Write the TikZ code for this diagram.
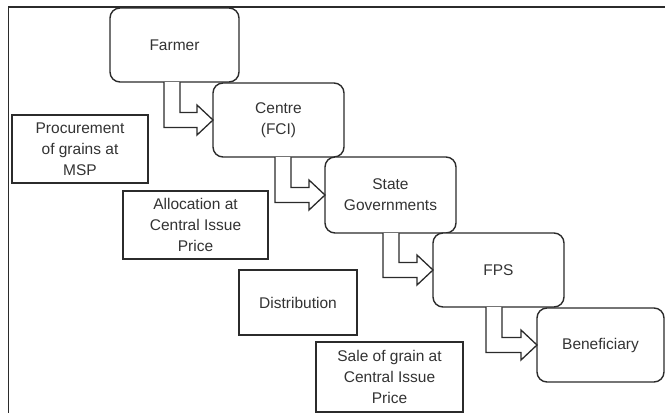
\documentclass[tikz,border=0pt]{standalone}
\usepackage{fontspec}
\setmainfont{Liberation Sans}
\usetikzlibrary{calc}
\definecolor{ink}{HTML}{2B2B2B}
\definecolor{txt}{HTML}{333333}
\tikzset{
  stage/.style={draw=ink, line width=1.4pt, rounded corners=10pt, fill=white, outer sep=0pt,
    align=center, text=txt, inner sep=2pt,
    font=\fontsize{15.5}{21}\selectfont},
  note/.style={draw=ink, line width=1.3pt, fill=white, outer sep=0pt,
    align=center, text=txt, inner sep=2pt,
    font=\fontsize{15.5}{21}\selectfont},
  hollow/.style={draw=ink, line width=1.3pt, fill=white, line join=miter},
  frameline/.style={draw=ink, line width=1.8pt}
}
\newcommand\hollowarrow[3]{%
  \path[hollow] let \p1=($(#1.south west)+(#2,0)$), \p2=(#3.west) in
    (\x1+16pt,\y1) -- (\x1+16pt,\y2+7.5pt) -- (\x2-16pt,\y2+7.5pt) -- (\x2-16pt,\y2+15pt)
    -- (\x2,\y2) -- (\x2-16pt,\y2-15pt) -- (\x2-16pt,\y2-7.5pt) -- (\x1,\y2-7.5pt) -- (\x1,\y1);
}
\begin{document}
\begin{tikzpicture}[x=1pt,y=-1pt]
\useasboundingbox (0,0) rectangle (665,413);
\coordinate (ftr) at (665,7);
\coordinate (ftl) at (8.5,7);
\coordinate (fbl) at (8.5,413);
\draw[frameline] (ftr) -- (ftl) -- (fbl);

\node[stage, minimum width=129pt, minimum height=74pt] (farmer) at (174.5,45) {Farmer};
\node[stage, minimum width=131pt, minimum height=74pt] (centre) at (278.5,120) {Centre\\(FCI)};
\node[stage, minimum width=131pt, minimum height=76pt] (state) at (390.5,195) {State\\Governments};
\node[stage, minimum width=131pt, minimum height=74pt] (fps) at (498.5,270) {FPS};
\node[stage, minimum width=127pt, minimum height=74pt] (benef) at (600.5,345) {Beneficiary};

\hollowarrow{farmer}{54pt}{centre}
\hollowarrow{centre}{62pt}{state}
\hollowarrow{state}{58pt}{fps}
\hollowarrow{fps}{53pt}{benef}

\node[note, minimum width=136pt, minimum height=68pt] (proc) at (80,149) {Procurement\\of grains at\\MSP};
\node[note, minimum width=145pt, minimum height=68pt] (alloc) at (195.5,225) {Allocation at\\Central Issue\\Price};
\node[note, minimum width=118pt, minimum height=65pt] (dist) at (298,302.5) {Distribution};
\node[note, minimum width=147pt, minimum height=70pt] (sale) at (389.5,377) {Sale of grain at\\Central Issue\\Price};
\end{tikzpicture}
\end{document}
